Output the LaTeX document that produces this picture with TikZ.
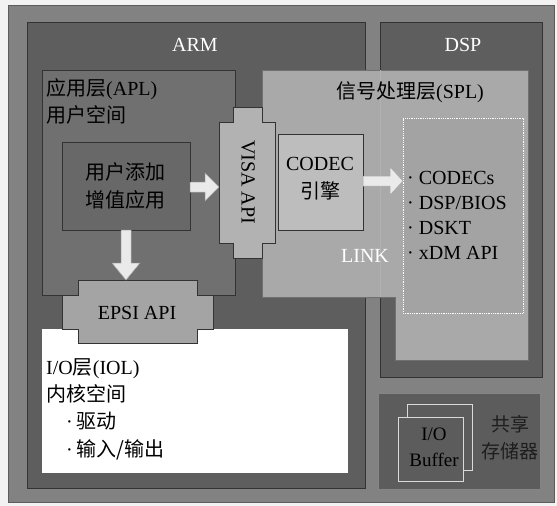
\documentclass[tikz,border=0pt]{standalone}
\usepackage{fontspec}
\setmainfont{Liberation Serif}
\newfontfamily\cjk{Noto Sans CJK SC}
\usetikzlibrary{calc}
\definecolor{pagebg}{HTML}{F2F2F2}
\definecolor{framec}{HTML}{828282}
\definecolor{armc}{HTML}{5E5E5E}
\definecolor{aplc}{HTML}{707070}
\definecolor{userc}{HTML}{686868}
\definecolor{splc}{HTML}{A9A9A9}
\definecolor{listc}{HTML}{A3A3A3}
\definecolor{visac}{HTML}{B2B2B2}
\definecolor{codecc}{HTML}{BDBDBD}
\definecolor{epsic}{HTML}{A4A4A4}
\definecolor{memc}{HTML}{5C5C5C}
\definecolor{memtext}{HTML}{1E1E1E}
\definecolor{edgec}{HTML}{333333}
\definecolor{arrowc}{HTML}{EAEAEA}
\definecolor{bufedge}{HTML}{DADADA}
\tikzset{
  box/.style={draw=edgec, line width=0.8pt, anchor=north west, inner sep=0pt, outer sep=0pt},
  txt/.style={inner sep=0pt, font=\fontsize{20}{25}\selectfont, text=black},
  wtxt/.style={txt, text=white},
  dtxt/.style={inner sep=0pt, text=memtext},
  blockarrow/.style={fill=arrowc, draw=gray!70, line width=0.5pt},
}
\begin{document}
\begin{tikzpicture}[x=1pt,y=-1pt]
\useasboundingbox[fill=pagebg] (0,0) rectangle (557,506);
% frame
\node[box, fill=framec, draw=edgec!80, minimum width=546pt, minimum height=497pt] (frame) at (8,5) {};
% ARM
\node[box, fill=armc, minimum width=338pt, minimum height=466pt] (arm) at (27,22) {};
% DSP
\node[box, fill=armc, minimum width=162pt, minimum height=355pt] (dsp) at (380,22) {};
% APL
\node[box, fill=aplc, minimum width=193pt, minimum height=225pt] (apl) at (42,70) {};
% user box
\node[box, fill=userc, minimum width=128pt, minimum height=88pt] (user) at (62,142) {};
% SPL polygon
\draw[fill=splc, draw=edgec!70, line width=0.6pt]
  (262,70) coordinate (splnw) -- (528,70) -- (528,360) -- (395,360) -- (395,297) -- (262,297) -- cycle;
\draw[draw=gray!60, line width=0.6pt] (380,70) -- (380,297);
% list box
\node[box, fill=listc, draw=white, densely dotted, line width=0.9pt, minimum width=120pt, minimum height=195pt] (listbox) at (403,118) {};
% CODEC box
\node[box, fill=codecc, minimum width=85pt, minimum height=96pt] (codec) at (278,134) {};
% IOL
\node[box, fill=white, draw=white, minimum width=305pt, minimum height=143pt] (iol) at (42,329) {};
% VISA
\draw[fill=visac, draw=edgec, line width=0.8pt]
  (233,107) -- (262,107) -- (262,122) -- (275,122) -- (275,243) -- (262,243) -- (262,258)
  -- (233,258) -- (233,243) -- (219,243) -- (219,122) -- (233,122) -- cycle;
% EPSI
\draw[fill=epsic, draw=edgec, line width=0.8pt]
  (78,280) -- (197,280) -- (197,295) -- (213,295) -- (213,329) -- (197,329) -- (197,343)
  -- (78,343) -- (78,329) -- (62,329) -- (62,295) -- (78,295) -- cycle;
% shared memory
\node[box, fill=memc, draw=edgec!60, minimum width=162pt, minimum height=96pt] (mem) at (378,393) {};
\node[box, fill=memc, draw=bufedge, line width=0.6pt, minimum width=65pt, minimum height=66pt] (bufback) at (407,404) {};
\node[box, fill=memc, draw=bufedge, line width=0.6pt, minimum width=65pt, minimum height=64pt] (buf) at (398,417) {};
% arrows
\draw[blockarrow] (user.east |- 0,182) -- (205,182) -- (205,173) -- (219,187) -- (205,201) -- (205,192) -- (user.east |- 0,192) -- cycle;
\draw[blockarrow] (121,0 |- user.south) -- (131,0 |- user.south) -- (131,263) -- (140,263) -- (126,280) -- (112,263) -- (121,263) -- cycle;
\draw[blockarrow] (codec.east |- 0,176) -- (390,176) -- (390,167) -- (403,181) -- (390,195) -- (390,186) -- (codec.east |- 0,186) -- cycle;
% texts
\node[wtxt] (armt) at (195,45) {ARM};
\node[wtxt] (dspt) at (463,45) {DSP};
\node[txt, anchor=west, align=left, font=\fontsize{20}{27}\selectfont] (aplt) at (46,101.5) {{\cjk 应用层}(APL)\\{\cjk 用户空间}};
\node[txt, align=center, font=\fontsize{20}{28}\selectfont\cjk] (usert) at (125,186) {用户添加\\增值应用};
\node[txt, rotate=-90] (visat) at (248,182) {VISA API};
\node[txt] (splt) at (410,92) {{\cjk 信号处理层}(SPL)};
\node[txt, align=center, font=\fontsize{20}{28}\selectfont] (codect) at (320,179) {CODEC\\{\cjk 引擎}};
\node[txt, anchor=west, align=left] (listt) at (407,215.5) {· CODECs\\· DSP/BIOS\\· DSKT\\· xDM API};
\node[wtxt] (linkt) at (365,256) {LINK};
\node[txt] (epsit) at (137,313) {EPSI API};
\node[txt, anchor=west, align=left, font=\fontsize{20}{27.3}\selectfont] (iolt) at (46,409) {I/O{\cjk 层}(IOL)\\{\cjk 内核空间}\\\hspace{20pt}·\hspace{4pt}{\cjk 驱动}\\\hspace{20pt}·\hspace{4pt}{\cjk 输入/输出}};
\node[txt, align=center, text=black, font=\fontsize{19}{26}\selectfont] (buft) at (434,447) {I/O\\Buffer};
\node[dtxt, align=center, font=\fontsize{19}{27}\selectfont\cjk] (memt) at (510,438) {共享\\存储器};
\end{tikzpicture}
\end{document}
